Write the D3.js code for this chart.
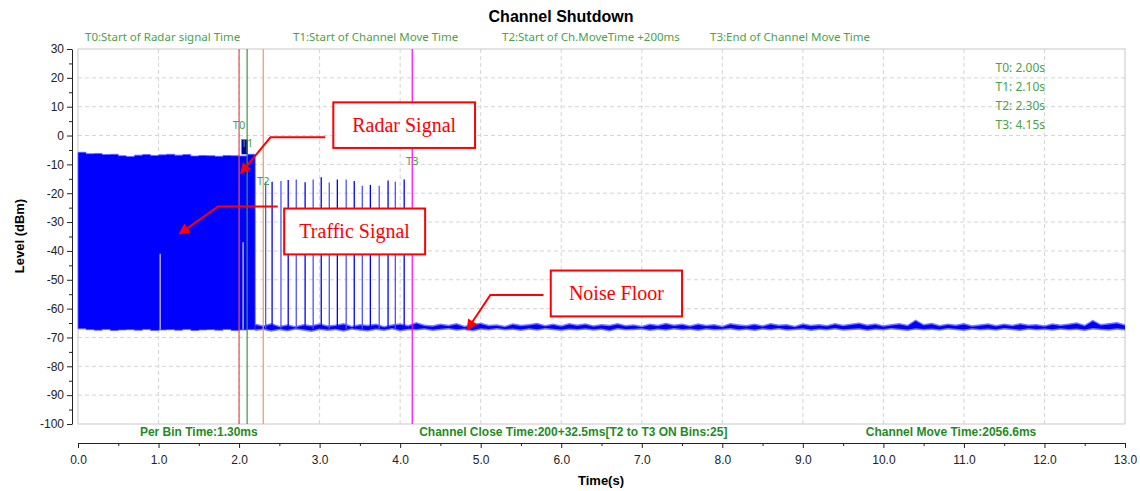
<!DOCTYPE html>
<html>
<head>
<meta charset="utf-8">
<title>Channel Shutdown</title>
<script src="https://cdn.jsdelivr.net/npm/d3@7"></script>
<style>
  body { margin: 0; background: #fff; }
  svg { display: block; }
  .tick text { font-family: "Liberation Sans", Arial, sans-serif; font-size: 12px; fill: #222; }
  .grid line { stroke: #d4d4d4; stroke-dasharray: 4,3; }
</style>
</head>
<body>
<script>
// ---- data ----
const timeTicks = [0, 1, 2, 3, 4, 5, 6, 7, 8, 9, 10, 11, 12, 13]
const levelTicks = [30, 20, 10, 0, -10, -20, -30, -40, -50, -60, -70, -80, -90, -100]

// T markers (s)
const markerNames = ['T0', 'T1', 'T2', 'T3']
const markerTimes = [2.00, 2.10, 2.30, 4.15]
const markerColors = ['#e8504f', '#3a9a3a', '#f4926a', '#ff00ff']
const markerLabelLevels = [3.6, -2.6, -15.8, -8.8]
const markerTitles = ['T0:Start of Radar signal Time', 'T1:Start of Channel Move Time',
  'T2:Start of Ch.MoveTime +200ms', 'T3:End of Channel Move Time']

// traffic block envelope (dBm)
const trafficTimes = [0.0, 0.1, 0.2, 0.3, 0.4, 0.5, 0.6, 0.7, 0.8, 0.9, 1.0, 1.1,
  1.2, 1.3, 1.4, 1.5, 1.6, 1.7, 1.8, 1.9, 2.0, 2.1, 2.2]
const trafficTop = [-5.8, -6.3, -6.2, -6.6, -6.5, -7.0, -7.3, -6.8, -6.6, -6.9, -6.7, -6.5,
  -6.8, -6.6, -7.1, -6.9, -7.0, -7.2, -6.9, -7.0, -7.1, -6.5, -6.4]
const trafficBottom = [-67.0, -67.3, -67.5, -67.2, -67.6, -67.4, -67.3, -67.5, -67.2, -67.6, -67.4, -67.3,
  -67.5, -67.2, -67.6, -67.4, -67.3, -67.5, -67.2, -67.6, -67.4, -67.3, -67.5]

// radar burst
const radarTimes = [2.03, 2.11]
const radarTop = -1.3

// gaps inside the traffic block
const gapTimes = [1.02, 2.05]
const gapTops = [-41, -37]

// traffic spikes after T2
const spikeTimes = [2.33, 2.41, 2.52, 2.61, 2.71, 2.82, 2.92, 3.02, 3.12, 3.22,
  3.33, 3.43, 3.53, 3.63, 3.74, 3.85, 3.94, 4.05]
const spikeLevels = [-16.0, -16.0, -15.8, -15.4, -15.2, -16.2, -15.2, -14.5, -16.3, -15.2,
  -15.2, -15.8, -17.4, -17.1, -17.4, -15.6, -16.0, -15.2]

// noise floor, 0.1 s bins from 2.2 s to 13.0 s
const noiseStart = 2.2
const noiseStep = 0.1
const noiseUpper = [
  -65.2, -65.8, -65.0, -65.9, -65.4, -66.0, -65.3, -65.7, -65.1, -65.8,
  -65.5, -65.0, -65.9, -65.3, -65.6, -65.2, -66.0, -65.4, -65.1, -65.7,
  -64.6, -65.5, -65.8, -65.2, -65.6, -65.0, -65.9, -65.3, -64.8, -65.6,
  -65.4, -65.9, -65.1, -65.6, -65.3, -64.9, -65.7, -65.2, -65.8, -65.0,
  -65.5, -65.1, -65.8, -65.3, -65.6, -65.0, -65.7, -65.4, -65.9, -65.2,
  -65.6, -64.9, -65.5, -65.2, -65.8, -65.1, -65.6, -65.3, -65.9, -65.0,
  -65.4, -65.7, -65.2, -65.8, -65.0, -65.5, -65.3, -65.9, -65.1, -65.6,
  -65.3, -65.7, -65.0, -65.6, -65.2, -64.8, -65.5, -65.1, -65.8, -65.3,
  -65.0, -65.6, -63.8, -65.3, -64.9, -65.7, -65.2, -65.5, -65.0, -65.8,
  -65.4, -65.1, -65.7, -65.2, -65.6, -65.0, -65.5, -65.3, -65.8, -65.1,
  -65.5, -65.2, -64.7, -65.6, -63.9, -65.3, -65.0, -64.6, -65.4]
const noiseLower = [
  -67.8, -67.4, -68.0, -67.5, -67.9, -67.3, -67.7, -68.1, -67.4, -67.8,
  -67.5, -68.0, -67.3, -67.7, -67.9, -67.4, -67.8, -67.2, -67.9, -67.5,
  -67.6, -67.3, -67.8, -67.5, -67.2, -67.7, -67.4, -67.9, -67.3, -67.6,
  -67.2, -67.6, -67.4, -67.8, -67.3, -67.7, -67.2, -67.5, -67.8, -67.4,
  -67.6, -67.3, -67.7, -67.4, -67.9, -67.2, -67.6, -67.5, -67.3, -67.8,
  -67.4, -67.7, -67.2, -67.6, -67.4, -67.8, -67.3, -67.6, -67.5, -67.2,
  -67.7, -67.4, -67.8, -67.3, -67.6, -67.2, -67.7, -67.5, -67.3, -67.8,
  -67.4, -67.6, -67.2, -67.7, -67.5, -67.3, -67.8, -67.4, -67.6, -67.2,
  -67.5, -67.8, -67.3, -67.6, -67.4, -67.7, -67.2, -67.5, -67.8, -67.3,
  -67.6, -67.4, -67.7, -67.2, -67.5, -67.8, -67.3, -67.6, -67.4, -67.7,
  -67.3, -67.6, -67.4, -67.8, -67.2, -67.5, -67.7, -67.3, -67.6]

const statTexts = ['Per Bin Time:1.30ms', 'Channel Close Time:200+32.5ms[T2 to T3 ON Bins:25]',
  'Channel Move Time:2056.6ms']
const statCenters = [1.5, 6.15, 10.84] // in seconds along x

// callouts: label, box [t0, t1, lvl0, lvl1], arrow path points [t, lvl]
const calloutLabels = ['Radar Signal', 'Traffic Signal', 'Noise Floor']
const calloutBoxes = [[3.17, 4.93, 11.5, -4.3], [2.56, 4.31, -25.3, -41.2], [5.87, 7.50, -46.8, -62.7]]
const calloutArrows = [
  [[3.07, -0.6], [2.39, -0.6], [2.03, -12.8]],
  [[2.48, -24.6], [1.74, -24.6], [1.27, -33.9]],
  [[5.78, -55.3], [5.12, -55.3], [4.84, -67.0]]
]

// ---- layout ----
const W = 1140, H = 491
const x = d3.scaleLinear().domain([0, 13]).range([78, 1125])
const y = d3.scaleLinear().domain([-100, 30]).range([424, 49])

const svg = d3.select('body').append('svg').attr('width', W).attr('height', H)

svg.append('defs').append('marker')
  .attr('id', 'arrow').attr('viewBox', '0 0 10 10')
  .attr('refX', 8).attr('refY', 5)
  .attr('markerWidth', 13).attr('markerHeight', 11)
  .attr('markerUnits', 'userSpaceOnUse')
  .attr('orient', 'auto')
  .append('path').attr('d', 'M0,0 L10,5 L0,10 z').attr('fill', '#ff0000')

// title
svg.append('text').attr('x', 561).attr('y', 22).attr('text-anchor', 'middle')
  .style('font', 'bold 16px "Liberation Sans", Arial, sans-serif').text('Channel Shutdown')

// marker titles above plot
svg.append('g').selectAll('text').data(markerTitles).enter().append('text')
  .attr('x', (d, i) => [85, 293, 502, 710][i]).attr('y', 41)
  .style('font', '11.5px "Noto Sans", sans-serif').attr('fill', '#4aa24a')
  .text(d => d)

// grid
svg.append('g').attr('class', 'grid')
  .selectAll('line').data(timeTicks.slice(1, -1)).enter().append('line')
  .attr('x1', d => x(d)).attr('x2', d => x(d)).attr('y1', y(30)).attr('y2', y(-100))
svg.append('g').attr('class', 'grid')
  .selectAll('line').data(levelTicks.slice(1, -1)).enter().append('line')
  .attr('x1', x(0)).attr('x2', x(13)).attr('y1', d => y(d)).attr('y2', d => y(d))

// plot frame
svg.append('rect').attr('x', x(0)).attr('y', y(30))
  .attr('width', x(13) - x(0)).attr('height', y(-100) - y(30))
  .attr('fill', 'none').attr('stroke', '#c8c8c8')

const plot = svg.append('g')

// traffic block
const trafficData = trafficTimes.map((t, i) => ({ t, hi: trafficTop[i], lo: trafficBottom[i] }))
plot.append('path').datum(trafficData)
  .attr('d', d3.area().x(d => x(d.t)).y0(d => y(d.lo)).y1(d => y(d.hi)).curve(d3.curveStepAfter))
  .attr('fill', '#0000ff').attr('stroke', '#6464ff').attr('stroke-width', 0.8)

// light gaps in block
plot.append('g').selectAll('line').data(gapTimes).enter().append('line')
  .attr('x1', d => x(d)).attr('x2', d => x(d))
  .attr('y1', (d, i) => y(gapTops[i])).attr('y2', y(-67.2))
  .attr('stroke', '#d4d4ff').attr('stroke-width', 1.2)

// radar burst
plot.append('rect')
  .attr('x', x(radarTimes[0])).attr('width', x(radarTimes[1]) - x(radarTimes[0]))
  .attr('y', y(radarTop)).attr('height', y(-6.5) - y(radarTop))
  .attr('fill', '#0000a8')

// noise floor: solid core with lighter fringes
const noiseData = noiseUpper.map((v, i) => ({ t: noiseStart + i * noiseStep, hi: v, lo: noiseLower[i] }))
plot.append('path').datum(noiseData)
  .attr('d', d3.area().x(d => x(d.t)).y0(d => y(d.lo)).y1(d => y(d.hi)))
  .attr('fill', '#7a7aff')
plot.append('path').datum(noiseData)
  .attr('d', d3.area().x(d => x(d.t)).y0(d => y(d.lo) - 1.5).y1(d => y(d.hi) + 1.5))
  .attr('fill', '#0000ff')

// spikes
plot.append('g').selectAll('line').data(spikeTimes).enter().append('line')
  .attr('x1', d => x(d)).attr('x2', d => x(d))
  .attr('y1', (d, i) => y(spikeLevels[i])).attr('y2', y(-67))
  .attr('stroke', (d, i) => i % 2 ? '#0000ff' : '#5050ff').attr('stroke-width', 1.3)

// marker lines + labels
plot.append('g').selectAll('line').data(markerTimes).enter().append('line')
  .attr('x1', d => x(d)).attr('x2', d => x(d)).attr('y1', y(30)).attr('y2', y(-100))
  .attr('stroke', (d, i) => markerColors[i]).attr('stroke-width', 1.2)
plot.append('g').selectAll('text').data(markerNames).enter().append('text')
  .attr('x', (d, i) => x(markerTimes[i])).attr('y', (d, i) => y(markerLabelLevels[i]) + 4)
  .attr('text-anchor', 'middle')
  .style('font', '11px "Noto Sans", sans-serif').attr('fill', '#4aa24a')
  .text(d => d)

// right list of marker times
plot.append('g').selectAll('text').data(markerNames).enter().append('text')
  .attr('x', 1045).attr('y', (d, i) => 72 + i * 19).attr('text-anchor', 'end')
  .style('font', '12px "Noto Sans", sans-serif').attr('fill', '#4aa24a')
  .text((d, i) => `${d}: ${markerTimes[i].toFixed(2)}s`)

// callouts
calloutArrows.forEach(pts => {
  plot.append('path')
    .attr('d', d3.line().x(p => x(p[0])).y(p => y(p[1]))(pts))
    .attr('fill', 'none').attr('stroke', '#ff0000').attr('stroke-width', 2)
    .attr('marker-end', 'url(#arrow)')
})
calloutBoxes.forEach((b, i) => {
  plot.append('rect')
    .attr('x', x(b[0])).attr('y', y(b[2]))
    .attr('width', x(b[1]) - x(b[0])).attr('height', y(b[3]) - y(b[2]))
    .attr('fill', '#fff').attr('stroke', '#ff0000').attr('stroke-width', 2)
  plot.append('text')
    .attr('x', (x(b[0]) + x(b[1])) / 2).attr('y', (y(b[2]) + y(b[3])) / 2 + 7)
    .attr('text-anchor', 'middle')
    .style('font', '20px "Liberation Serif", "Times New Roman", serif').attr('fill', '#ff0000')
    .text(calloutLabels[i])
})

// stats band
svg.append('g').selectAll('text').data(statTexts).enter().append('text')
  .attr('x', (d, i) => x(statCenters[i])).attr('y', 436).attr('text-anchor', 'middle')
  .style('font', 'bold 12px "Liberation Sans", Arial, sans-serif').attr('fill', '#1f8c1f')
  .text(d => d)

// axes
const xAxis = svg.append('g').attr('transform', 'translate(0,443)')
  .call(d3.axisBottom(x).tickValues(timeTicks).tickFormat(d3.format('.1f')).tickSize(5).tickSizeOuter(0))
xAxis.selectAll('text').attr('dy', '1.1em')
svg.append('g').attr('transform', 'translate(0,443)')
  .call(d3.axisBottom(x).tickValues(timeTicks.slice(0, -1).map(t => t + 0.5)).tickFormat('').tickSize(3))
  .select('.domain').remove()

svg.append('g').attr('transform', 'translate(72,0)')
  .call(d3.axisLeft(y).tickValues(levelTicks).tickFormat(d => String(d)).tickSize(5).tickSizeOuter(0))
svg.append('g').attr('transform', 'translate(72,0)')
  .call(d3.axisLeft(y).tickValues(levelTicks.slice(0, -1).map(v => v - 5)).tickFormat('').tickSize(3))
  .select('.domain').remove()

svg.selectAll('.domain, .tick line').attr('stroke', '#222')

// axis titles
svg.append('text').attr('x', 601).attr('y', 485).attr('text-anchor', 'middle')
  .style('font', 'bold 13px "Liberation Sans", Arial, sans-serif').text('Time(s)')
svg.append('text').attr('transform', 'translate(24,236) rotate(-90)').attr('text-anchor', 'middle')
  .style('font', 'bold 13px "Liberation Sans", Arial, sans-serif').text('Level (dBm)')
</script>
</body>
</html>
